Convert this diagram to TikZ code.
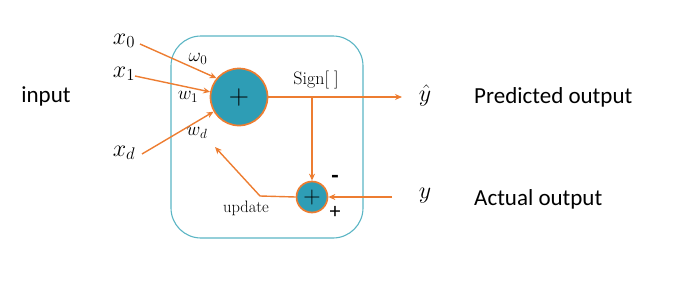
\RequirePackage{fix-cm}
\documentclass[tikz,border=0pt]{standalone}
\usepackage{fontspec}
\newfontfamily\calfont{Carlito}
\usetikzlibrary{arrows.meta}
\definecolor{orng}{HTML}{ED7D31}
\definecolor{tealfill}{HTML}{2E9DB5}
\definecolor{boxline}{HTML}{5BB5C4}
\tikzset{
  conn/.style={draw=orng, line width=1.4pt, -{Stealth[length=7pt,width=6pt]}},
  sumbig/.style={circle, fill=tealfill, draw=orng, line width=1.7pt, minimum size=57pt, inner sep=0pt, font=\fontsize{28}{28}\selectfont},
  sumsmall/.style={circle, fill=tealfill, draw=orng, line width=1.7pt, minimum size=31pt, inner sep=0pt, font=\fontsize{24}{24}\selectfont},
  mathlbl/.style={font=\fontsize{24}{24}\selectfont, inner sep=0pt},
  wlbl/.style={font=\fontsize{19}{19}\selectfont, inner sep=0pt},
  sidelbl/.style={font=\calfont\fontsize{23}{23}\selectfont, inner sep=0pt},
}
\begin{document}
\begin{tikzpicture}[x=1pt,y=-1pt]
\useasboundingbox (0,0) rectangle (679,284);
\draw[boxline, line width=1.1pt, rounded corners=30pt] (171,36) rectangle (363,238);
\node[sidelbl] (input) at (46,96) {input};
\node[mathlbl] (x0) at (124,41) {$x_0$};
\node[mathlbl] (x1) at (124,74) {$x_1$};
\node[mathlbl] (xd) at (124,153) {$x_d$};
\node[sumbig] (s) at (239,97) {$+$};
\node[sumsmall] (e) at (312,197) {$+$};
\coordinate (x0s) at (140,44);
\coordinate (x1s) at (135,76);
\coordinate (xds) at (142,154);
\draw[conn] (x0s) -- (s.140);
\draw[conn] (x1s) -- (s.170);
\draw[conn] (xds) -- (s.210);
\node[wlbl] (w0) at (198,59) {$\omega_0$};
\node[wlbl] (w1) at (188,97) {$w_1$};
\node[wlbl] (wd) at (197,133) {$w_d$};
\node[font=\fontsize{18}{18}\selectfont, inner sep=0pt] (sign) at (316,80) {Sign$[\;]$};
\node[mathlbl] (yhat) at (425,95) {$\hat{y}$};
\node[mathlbl] (y) at (425,196) {$y$};
\coordinate (tip) at (402,97);
\draw[conn] (s.east) -- (tip);
\coordinate (br) at (312,97);
\draw[conn] (br) -- (e.north);
\coordinate (ys) at (392,197);
\draw[conn] (ys) -- (e.east);
\coordinate (bend) at (260,196);
\coordinate (up) at (215,147);
\draw[conn] (e.west) -- (bend) -- (up);
\node[font=\fontsize{16.5}{16.5}\selectfont, inner sep=0pt] (upd) at (246,208) {update};
\node[font=\calfont\bfseries\fontsize{24}{24}\selectfont, inner sep=0pt] (minus) at (335,179) {-};
\node[font=\calfont\fontsize{22}{22}\selectfont, inner sep=0pt] (plus) at (335,212) {+};
\node[sidelbl, anchor=west] (pred) at (474,97) {Predicted output};
\node[sidelbl, anchor=west] (act) at (474,199) {Actual output};
\end{tikzpicture}
\end{document}
